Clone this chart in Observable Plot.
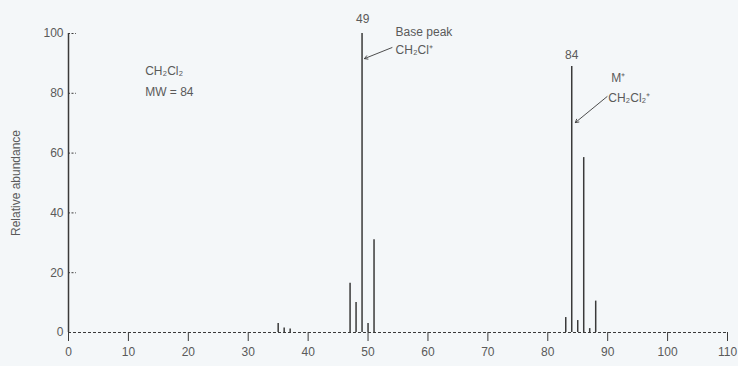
<!DOCTYPE html>
<html>
<head>
<meta charset="utf-8">
<script src="https://cdn.jsdelivr.net/npm/d3@7"></script>
<script src="https://cdn.jsdelivr.net/npm/@observablehq/plot@0.6"></script>
<style>
  html, body { margin: 0; padding: 0; background: #f4f7f9; }
  #chart svg { display: block; }
</style>
</head>
<body>
<div id="chart"></div>
<script>
// m/z values and relative abundances
const mz = [35, 36, 37, 47, 48, 49, 50, 51, 83, 84, 85, 86, 87, 88];
const abundance = [3, 1.5, 1.2, 16.5, 10, 100, 3, 31, 5, 89, 4, 58.5, 1.3, 10.5];
const xTicks = [0, 10, 20, 30, 40, 50, 60, 70, 80, 90, 100, 110];
const yTicks = [0, 20, 40, 60, 80, 100];

// annotations (left-aligned)
const startLabels = [
  {x: 12.8, y: 87.5, text: "CH₂Cl₂"},
  {x: 12.8, y: 80.5, text: "MW = 84"},
  {x: 54.6, y: 100.3, text: "Base peak"},
  {x: 54.6, y: 94.3, text: "CH₂Cl⁺"},
  {x: 90.6, y: 85, text: "M⁺"},
  {x: 90.1, y: 78.3, text: "CH₂Cl₂⁺"}
];
// peak labels (centred)
const peakLabels = [
  {x: 49.1, y: 104.8, text: "49"},
  {x: 84.0, y: 92.6, text: "84"}
];
const arrows = [
  {x1: 54.0, y1: 95.3, x2: 49.4, y2: 91.6},
  {x1: 89.9, y1: 78.9, x2: 84.6, y2: 70.2}
];

const peaks = mz.map((m, i) => ({mz: m, ab: abundance[i]}));
const ink = "#3a3a3a";
const txt = "#5a5a5a";

const chart = Plot.plot({
  width: 738,
  height: 366,
  marginLeft: 68,
  marginRight: 11,
  marginTop: 33,
  marginBottom: 34,
  style: {background: "#f4f7f9", fontFamily: "Liberation Sans, Arial, sans-serif", fontSize: "12px", color: txt},
  x: {domain: [0, 110]},
  y: {domain: [0, 100]},
  marks: [
    Plot.axisX({ticks: xTicks, tickSize: 9, tickPadding: 6, stroke: ink, fill: txt, fontSize: 12, tickFormat: d => d}),
    Plot.axisY({ticks: yTicks, tickSize: 0, tickPadding: 5, fill: txt, fontSize: 12, label: null}),
    Plot.ruleY(yTicks.filter(d => d > 0), {x1: 0, x2: 1.3, stroke: ink, strokeDasharray: "2,1.5", strokeWidth: 1}),
    Plot.ruleY([0], {x1: 0, x2: 110, stroke: ink, strokeDasharray: "3,2", strokeWidth: 1}),
    Plot.ruleX([0], {y1: 0, y2: 100, stroke: ink, strokeWidth: 1.5}),
    Plot.ruleX(peaks, {x: "mz", y1: 0, y2: "ab", stroke: ink, strokeWidth: 1.5}),
    Plot.arrow(arrows, {x1: "x1", y1: "y1", x2: "x2", y2: "y2", stroke: ink, strokeWidth: 0.9, headLength: 6, bend: 0}),
    Plot.text(startLabels, {x: "x", y: "y", text: "text", textAnchor: "start", fill: txt, fontSize: 12}),
    Plot.text(peakLabels, {x: "x", y: "y", text: "text", textAnchor: "middle", fill: txt, fontSize: 12})
  ]
});

// y-axis title, rotated
const svg = d3.select(chart);
svg.append("text")
  .attr("transform", "translate(17,183) rotate(-90)")
  .attr("text-anchor", "middle")
  .attr("dominant-baseline", "middle")
  .attr("fill", txt)
  .attr("font-size", 12)
  .attr("font-family", "Liberation Sans, Arial, sans-serif")
  .text("Relative abundance");

document.getElementById("chart").appendChild(chart);
</script>
</body>
</html>
